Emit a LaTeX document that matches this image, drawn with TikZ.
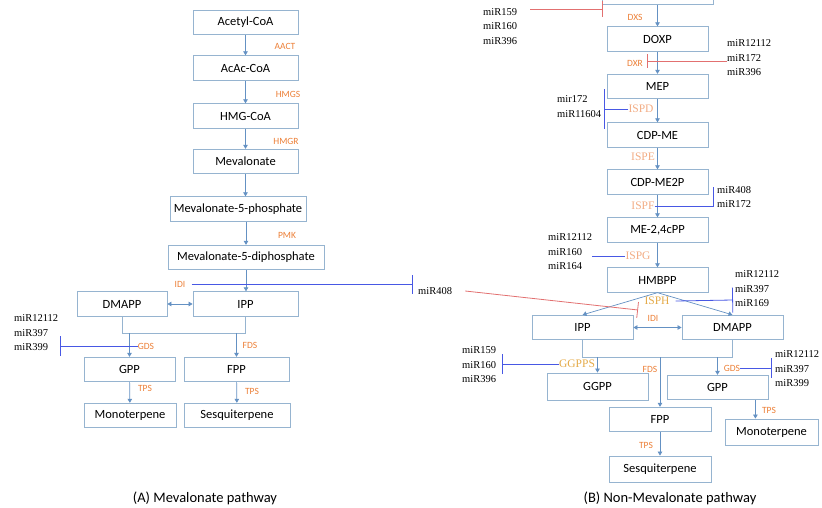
\documentclass[tikz,border=0pt]{standalone}
\usepackage{fontspec}
\usetikzlibrary{arrows.meta}
\newfontfamily\boxfont{Carlito}
\newfontfamily\mirfont{Liberation Serif}
\definecolor{boxc}{RGB}{150,180,208}
\definecolor{arrc}{RGB}{100,145,195}
\definecolor{enzc}{RGB}{236,128,56}
\definecolor{ispc}{RGB}{242,172,132}
\definecolor{goldc}{RGB}{228,170,72}
\definecolor{inhc}{RGB}{72,88,228}
\definecolor{redc}{RGB}{226,112,112}
\tikzset{>/.tip={Triangle[width=4.5pt,length=4pt]},
  mol/.style={draw=boxc, line width=0.8pt, minimum height=24.5pt, inner sep=0pt, font=\boxfont\fontsize{12.5}{14}\selectfont},
  enz/.style={text=enzc, inner sep=0pt, font=\boxfont\fontsize{9.5}{11}\selectfont},
  isp/.style={text=ispc, inner sep=0pt, font=\mirfont\fontsize{11.5}{13}\selectfont},
  mir/.style={anchor=west, align=left, inner sep=0pt, font=\mirfont\fontsize{10.5}{14.5}\selectfont},
  flow/.style={draw=arrc, line width=0.7pt, ->},
  link/.style={draw=boxc, line width=0.8pt},
  blk/.style={draw=inhc, line width=0.8pt},
  rblk/.style={draw=redc, line width=0.8pt},
  ttl/.style={font=\boxfont\fontsize{14.5}{16}\selectfont}}

\begin{document}
\begin{tikzpicture}[x=1pt, y=-1pt]
\useasboundingbox (0,0) rectangle (822,508);
\clip (0,0) rectangle (822,508);

% (A) mevalonate
\node[mol, minimum width=105pt] (acetyl) at (245.5,22.5)  {Acetyl-CoA};
\node[mol, minimum width=105pt] (acac)   at (245.5,68)    {AcAc-CoA};
\node[mol, minimum width=105pt] (hmgcoa) at (245.5,116)   {HMG-CoA};
\node[mol, minimum width=105pt] (meva)   at (245.5,161.5) {Mevalonate};
\node[mol, minimum width=136pt] (mvp)    at (238,209)     {Mevalonate-5-phosphate};
\node[mol, minimum width=156pt] (mvpp)   at (246,257.5)   {Mevalonate-5-diphosphate};
\node[mol, minimum width=90pt]  (dmappA) at (122,304)     {DMAPP};
\node[mol, minimum width=105pt] (ippA)   at (245.5,304)   {IPP};
\node[mol, minimum width=91pt]  (gppA)   at (129.5,369.5) {GPP};
\node[mol, minimum width=105pt] (fppA)   at (236.5,369.5) {FPP};
\node[mol, minimum width=92pt]  (monoA)  at (130,415.5)   {Monoterpene};
\node[mol, minimum width=106pt] (sesqA)  at (237,415.5)   {Sesquiterpene};

\node[enz] (aact) at (285,46)  {AACT};
\node[enz] (hmgs) at (288,94)  {HMGS};
\node[enz] (hmgr) at (286,141) {HMGR};
\node[enz] (pmk)  at (287,235) {PMK};
\node[enz] (idiA) at (180,284.5) {IDI};
\node[enz] (gdsA) at (146,346) {GDS};
\node[enz] (fdsA) at (250,345) {FDS};
\node[enz] (tpsA1) at (145,388) {TPS};
\node[enz] (tpsA2) at (252,391) {TPS};

\foreach \a/\b in {acetyl/acac, acac/hmgcoa, hmgcoa/meva}
{
  \draw[flow] (\a) -- (\b);
}
\draw[flow] (meva.south) -- (meva.south |- mvp.north);
\draw[flow] (mvpp.north |- mvp.south) -- (mvpp.north);
\draw[flow] (mvpp.south) -- (mvpp.south |- ippA.north);
\draw[flow, <->] (dmappA) -- (ippA);
\coordinate (jA) at (0,333);
\draw[link] (dmappA.south) |- (ippA.south |- jA) -- (ippA.south);
\draw[flow] (gppA.north |- jA) -- (gppA.north);
\draw[flow] (fppA.north |- jA) -- (fppA.north);
\draw[flow] (gppA) -- (monoA);
\draw[flow] (fppA) -- (sesqA);

\node[mir] (mirL)   at (14,333)  {miR12112\\miR397\\miR399};
\node[mir] (mir408) at (418,291) {miR408};
\coordinate (barIDI) at (413,284.5);
\coordinate (barGDS) at (60,346);
\draw[blk, -{Bar[width=19pt]}] ([xshift=6pt]idiA.east) -- (barIDI);
\draw[blk, -{Bar[width=20pt]}] (gdsA.west) -- (barGDS);

% (B) non-mevalonate
\node[mol, minimum width=111pt] (topbox)  at (657.5,-7.5) {};
\node[mol, minimum width=101pt] (doxp)    at (657.5,39)   {DOXP};
\node[mol, minimum width=101pt] (mep)     at (657.5,86.5) {MEP};
\node[mol, minimum width=101pt] (cdpme)   at (657.5,135)  {CDP-ME};
\node[mol, minimum width=101pt] (cdpme2p) at (657.5,182)  {CDP-ME2P};
\node[mol, minimum width=101pt] (mecpp)   at (657.5,230)  {ME-2,4cPP};
\node[mol, minimum width=101pt] (hmbpp)   at (657.5,280)  {HMBPP};
\node[mol, minimum width=101pt] (ippB)    at (582.5,327.5) {IPP};
\node[mol, minimum width=101pt] (dmappB)  at (732.5,327.5) {DMAPP};
\node[mol, minimum width=101pt, minimum height=27pt] (ggpp) at (597.5,386.5) {GGPP};
\node[mol, minimum width=101pt] (gppB)    at (717.5,387.5) {GPP};
\node[mol, minimum width=102pt] (fppB)    at (660,419.5)  {FPP};
\node[mol, minimum width=93pt, minimum height=26pt]  (monoB) at (771.5,432) {Monoterpene};
\node[mol, minimum width=102pt, minimum height=26pt] (sesqB) at (660,469)   {Sesquiterpene};

\node[enz] (dxs)  at (635,17)  {DXS};
\node[enz] (dxr)  at (635,63)  {DXR};
\node[isp] (ispd) at (641,109) {ISPD};
\node[isp] (ispe) at (643,157) {ISPE};
\node[isp] (ispf) at (643,206) {ISPF};
\node[isp] (ispg) at (638,256) {ISPG};
\node[isp, text=goldc] (isph) at (657,301) {ISPH};
\node[enz] (idiB) at (653,318) {IDI};
\node[isp, text=goldc] (ggpps) at (577,364) {GGPPS};
\node[enz] (fdsB) at (650,369) {FDS};
\node[enz] (gdsB) at (732,368) {GDS};
\node[enz] (tpsB1) at (769,410) {TPS};
\node[enz] (tpsB2) at (646,445) {TPS};

\foreach \a/\b in {topbox/doxp, doxp/mep, mep/cdpme, cdpme/cdpme2p, cdpme2p/mecpp, mecpp/hmbpp}
{
  \draw[flow] (\a) -- (\b);
}
\draw[flow] (hmbpp.south) -- (ippB.north);
\draw[flow] (hmbpp.south) -- (dmappB.north);
\draw[flow, <->] (ippB) -- (dmappB);
\coordinate (jB) at (0,357);
\draw[link] (ippB.south) |- (dmappB.south |- jB) -- (dmappB.south);
\draw[flow] (ggpp.north |- jB) -- (ggpp.north);
\draw[flow] (fppB.north |- jB) -- (fppB.north);
\draw[flow] (gppB.north |- jB) -- (gppB.north);
\draw[flow] ([xshift=-13pt]gppB.south east) -- ([xshift=-13pt]gppB.south east |- monoB.north);
\draw[flow] (fppB) -- (sesqB);

\node[mir] (mirg1) at (483,19)    {miR171\\miR159\\miR160\\miR396};
\node[mir] (mirg2) at (727,58)    {miR12112\\miR172\\miR396};
\node[mir] (mirg3) at (557,106.5) {mir172\\miR11604};
\node[mir] (mirg4) at (717,197)   {miR408\\miR172};
\node[mir] (mirg5) at (548,252)   {miR12112\\miR160\\miR164};
\node[mir] (mirg6) at (735,289)   {miR12112\\miR397\\miR169};
\node[mir] (mirg8) at (462,365)   {miR159\\miR160\\miR396};
\node[mir] (mirg9) at (775,369)   {miR12112\\miR397\\miR399};

\coordinate (barDXS)   at (603,9);
\coordinate (barDXR)   at (647,61);
\coordinate (barISPD)  at (604,109);
\coordinate (barISPF)  at (713,187);
\coordinate (barISPH)  at (733,300);
\coordinate (barIDIB)  at (638,310);
\coordinate (barGGPPS) at (502,364);
\coordinate (barGDSB)  at (772,368);
\draw[rblk, -{Bar[width=16pt]}] ([xshift=13pt]mirg1.east |- barDXS) -- (barDXS);
\draw[rblk, -{Bar[width=14pt]}] (mirg2.west |- barDXR) -- (barDXR);
\draw[blk, -{Bar[width=40pt]}] (ispd.west) -- (barISPD);
\draw[blk] (ispf.east) -| (barISPF);
\draw[blk] (mirg5.east |- ispg) -- (ispg.west);
\draw[blk, -{Bar[width=25pt]}] ([xshift=6pt]isph.east) -- (barISPH);
\draw[rblk, -{Bar[width=16pt]}] ([xshift=13pt]mir408.east) -- (barIDIB);
\draw[blk, -{Bar[width=20pt]}] (ggpps.west) -- (barGGPPS);
\draw[blk, -{Bar[width=20pt]}] (gdsB.east) -- (barGDSB);

\node[ttl] (titleA) at (205,498) {(A) Mevalonate pathway};
\node[ttl] (titleB) at (670,498) {(B) Non-Mevalonate pathway};
\end{tikzpicture}
\end{document}
